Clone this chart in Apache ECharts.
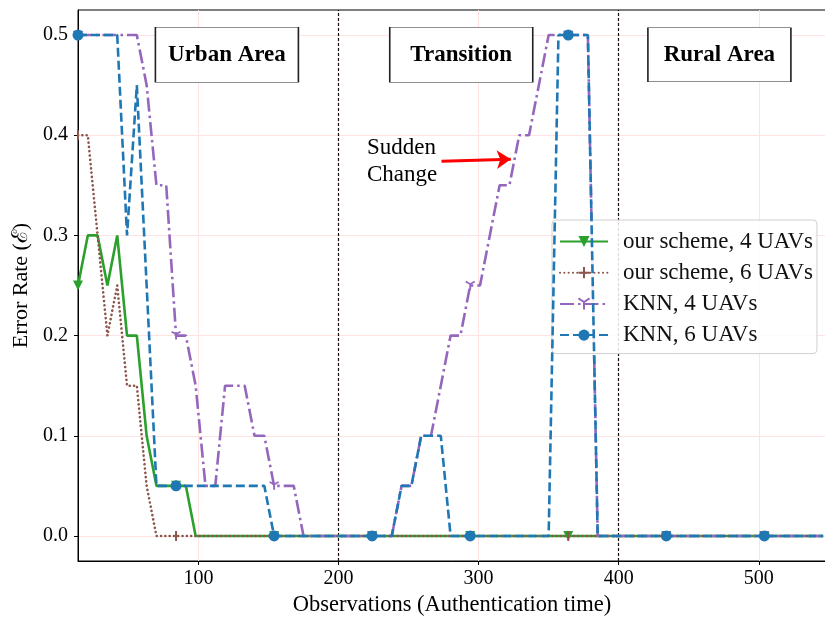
<!DOCTYPE html>
<html>
<head>
<meta charset="utf-8">
<script src="https://cdn.jsdelivr.net/npm/echarts@6/dist/echarts.min.js"></script>
<style>
  html, body { margin: 0; padding: 0; background: #fff; }
  #chart { width: 825px; height: 617px; }
</style>
</head>
<body>
<div id="chart"></div>
<script>
// Observation instants (authentication time)
const observations = [14, 21, 28, 35, 42, 49, 56, 63, 70, 77, 84, 91, 98, 105, 112, 119, 126, 133, 140, 147,
  154, 161, 168, 175, 182, 189, 196, 203, 210, 217, 224, 231, 238, 245, 252, 259, 266, 273, 280, 287,
  294, 301, 308, 315, 322, 329, 336, 343, 350, 357, 364, 371, 378, 385, 392, 399, 406, 413, 420, 427,
  434, 441, 448, 455, 462, 469, 476, 483, 490, 497, 504, 511, 518, 525, 532, 539, 546];

// Error rates per scheme
const ourScheme4 = [0.25, 0.3, 0.3, 0.25, 0.3, 0.2, 0.2, 0.1, 0.05, 0.05, 0.05, 0.05, 0, 0, 0, 0, 0, 0, 0, 0,
  0, 0, 0, 0, 0, 0, 0, 0, 0, 0, 0, 0, 0, 0, 0, 0, 0, 0, 0, 0,
  0, 0, 0, 0, 0, 0, 0, 0, 0, 0, 0, 0, 0, 0, 0, 0, 0, 0, 0, 0,
  0, 0, 0, 0, 0, 0, 0, 0, 0, 0, 0, 0, 0, 0, 0, 0, 0];
const ourScheme6 = [0.4, 0.4, 0.3, 0.2, 0.25, 0.15, 0.15, 0.05, 0, 0, 0, 0, 0, 0, 0, 0, 0, 0, 0, 0,
  0, 0, 0, 0, 0, 0, 0, 0, 0, 0, 0, 0, 0, 0, 0, 0, 0, 0, 0, 0,
  0, 0, 0, 0, 0, 0, 0, 0, 0, 0, 0, 0, 0, 0, 0, 0, 0, 0, 0, 0,
  0, 0, 0, 0, 0, 0, 0, 0, 0, 0, 0, 0, 0, 0, 0, 0, 0];
const knn4 = [0.5, 0.5, 0.5, 0.5, 0.5, 0.5, 0.5, 0.45, 0.35, 0.35, 0.2, 0.2, 0.15, 0.05, 0.05, 0.15, 0.15, 0.15, 0.1, 0.1,
  0.05, 0.05, 0.05, 0, 0, 0, 0, 0, 0, 0, 0, 0, 0, 0.05, 0.05, 0.1, 0.1, 0.15, 0.2, 0.2,
  0.25, 0.25, 0.3, 0.35, 0.35, 0.4, 0.4, 0.45, 0.5, 0.5, 0.5, 0.5, 0.5, 0, 0, 0, 0, 0, 0, 0,
  0, 0, 0, 0, 0, 0, 0, 0, 0, 0, 0, 0, 0, 0, 0, 0, 0];
const knn6 = [0.5, 0.5, 0.5, 0.5, 0.5, 0.3, 0.45, 0.25, 0.05, 0.05, 0.05, 0.05, 0.05, 0.05, 0.05, 0.05, 0.05, 0.05, 0.05, 0.05,
  0, 0, 0, 0, 0, 0, 0, 0, 0, 0, 0, 0, 0, 0.05, 0.05, 0.1, 0.1, 0.1, 0, 0,
  0, 0, 0, 0, 0, 0, 0, 0, 0, 0.5, 0.5, 0.5, 0.5, 0, 0, 0, 0, 0, 0, 0,
  0, 0, 0, 0, 0, 0, 0, 0, 0, 0, 0, 0, 0, 0, 0, 0, 0];

const seriesNames = ['our scheme, 4 UAVs', 'our scheme, 6 UAVs', 'KNN, 4 UAVs', 'KNN, 6 UAVs'];

// Axis ticks and region annotations
const xTicks = [100, 200, 300, 400, 500];
const yTicks = [0, 0.1, 0.2, 0.3, 0.4, 0.5];
const regionBounds = [200, 400];
const regionLabels = ['Urban Area', 'Transition', 'Rural Area'];

const MARK_EVERY = 10;
const SERIF = '"Liberation Serif", "Times New Roman", serif';

function pairs(values) {
  return observations.map((x, i) => {
    const item = { value: [x, values[i]] };
    if (i % MARK_EVERY !== 0) item.symbol = 'none';
    return item;
  });
}

const colors = {
  green: '#2ca02c',
  brown: '#8c564b',
  purple: '#9467bd',
  blue: '#1f77b4'
};

const gridLineStyle = { color: '#ffe3e3', width: 1, type: 'solid' };

const guideLines = []
  .concat(xTicks.map(v => ({ xAxis: v, lineStyle: gridLineStyle })))
  .concat(yTicks.map(v => ({ yAxis: v, lineStyle: gridLineStyle })))
  .concat(regionBounds.map(v => ({ xAxis: v, lineStyle: { color: '#111', width: 1.2, type: [3, 2] } })));

const boxStyle = {
  symbol: 'rect',
  itemStyle: { color: '#fff', borderColor: '#222', borderWidth: 1 },
  label: {
    show: true, position: 'inside', color: '#000',
    fontFamily: SERIF, fontWeight: 'bold', fontSize: 23
  }
};

function regionBox(label, coord, size) {
  return Object.assign({ coord: coord, symbolSize: size, value: label }, boxStyle, {
    label: Object.assign({}, boxStyle.label, { formatter: label })
  });
}

const option = {
  animation: false,
  backgroundColor: '#fff',
  grid: { left: 78, top: 10, right: -1, bottom: 56, show: true, borderColor: '#000', borderWidth: 1, outerBoundsMode: 'none' },
  xAxis: {
    type: 'value', min: 14, max: 548,
    name: 'Observations (Authentication time)',
    nameLocation: 'middle', nameGap: 33,
    nameTextStyle: { fontFamily: SERIF, fontSize: 22.5, color: '#000' },
    axisLine: { onZero: false, lineStyle: { color: '#000', width: 1 } },
    axisTick: { show: true, length: 4, lineStyle: { color: '#000' }, customValues: xTicks },
    axisLabel: { fontFamily: SERIF, fontSize: 20, color: '#000', margin: 8, customValues: xTicks },
    splitLine: { show: false }
  },
  yAxis: {
    type: 'value', min: -0.025, max: 0.525,
    name: 'Error Rate (\u2130)',
    nameLocation: 'middle', nameGap: 46,
    nameTextStyle: { fontFamily: SERIF, fontSize: 22, color: '#000' },
    axisLine: { show: true, onZero: false, lineStyle: { color: '#000', width: 1 } },
    axisTick: { show: true, length: 4, lineStyle: { color: '#000' }, customValues: yTicks },
    axisLabel: { fontFamily: SERIF, fontSize: 20, color: '#000', margin: 10, customValues: yTicks,
      formatter: v => v.toFixed(1) },
    splitLine: { show: false }
  },
  legend: {
    data: seriesNames,
    orient: 'vertical',
    left: 552, top: 220,
    padding: [10, 4, 7, 7],
    itemWidth: 48, itemHeight: 14, itemGap: 8.2,
    backgroundColor: 'rgba(255,255,255,0.85)',
    borderColor: '#d0d0d0', borderWidth: 1, borderRadius: 4,
    textStyle: { fontFamily: SERIF, fontSize: 23, color: '#111', padding: [0, 0, 0, 10] }
  },
  graphic: [{
    type: 'text', left: 367, top: 134, z: 10,
    style: { text: 'Sudden\nChange', fontFamily: SERIF, fontSize: 23, lineHeight: 27, fill: '#000' }
  }],
  series: [
    {
      name: '__guides', type: 'line', data: [], z: 0, silent: true,
      markLine: { silent: true, symbol: 'none', z: 0, label: { show: false }, animation: false, data: guideLines },
      markPoint: {
        silent: true, z: 6, animation: false,
        data: [
          regionBox(regionLabels[0], [120.3, 0.4803], [143, 55]),
          regionBox(regionLabels[1], [287.6, 0.4803], [143, 55]),
          regionBox(regionLabels[2], [471.9, 0.4803], [143, 54])
        ]
      }
    },
    {
      name: seriesNames[0], type: 'line', z: 3,
      data: pairs(ourScheme4),
      showAllSymbol: true, symbol: 'triangle', symbolRotate: 180, symbolSize: 10,
      itemStyle: { color: colors.green, borderColor: colors.green, borderWidth: 0 },
      lineStyle: { color: colors.green, width: 2.6, type: 'solid' }
    },
    {
      name: seriesNames[1], type: 'line', z: 3,
      data: pairs(ourScheme6),
      showAllSymbol: true, symbol: 'path://M1,0L1,10M0,5L2,5', symbolSize: [2, 10],
      itemStyle: { color: colors.brown, borderColor: colors.brown, borderWidth: 1.8 },
      lineStyle: { color: colors.brown, width: 2.6, type: [0.1, 4.2], cap: 'round' }
    },
    {
      name: seriesNames[2], type: 'line', z: 3,
      data: pairs(knn4),
      showAllSymbol: true, symbol: 'path://M5,5L5,10M5,5L0.67,2.5M5,5L9.33,2.5', symbolSize: [9, 8],
      itemStyle: { color: colors.purple, borderColor: colors.purple, borderWidth: 1.8 },
      lineStyle: { color: colors.purple, width: 2.6, type: [14, 4, 2.5, 4] },
      markLine: {
        silent: true, z: 7, animation: false,
        symbol: ['none', 'arrow'], symbolSize: [14, 14],
        label: { show: false },
        lineStyle: { color: '#ff0000', width: 3, type: 'solid' },
        data: [[{ coord: [273.5, 0.374] }, { coord: [323, 0.376] }]]
      }
    },
    {
      name: seriesNames[3], type: 'line', z: 4,
      data: pairs(knn6),
      showAllSymbol: true, symbol: 'circle', symbolSize: 11,
      itemStyle: { color: colors.blue, borderColor: colors.blue, borderWidth: 0 },
      lineStyle: { color: colors.blue, width: 2.6, type: [9, 4] }
    }
  ]
};

const chart = echarts.init(document.getElementById('chart'), null, { renderer: 'canvas' });
chart.setOption(option);
</script>
</body>
</html>
